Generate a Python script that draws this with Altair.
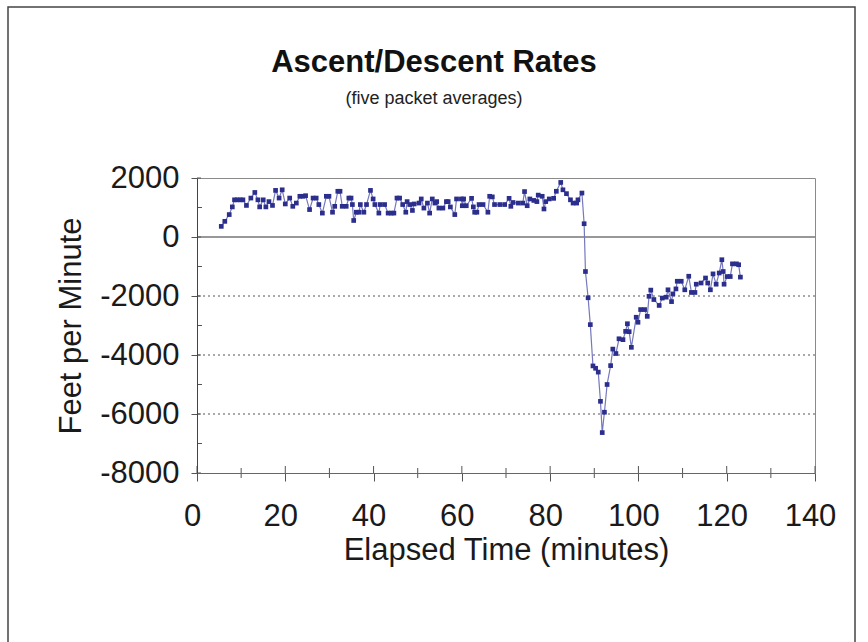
import altair as alt
import pandas as pd

# ---- data ----
minutes = [5.5, 6.3, 7.3, 8.0, 8.5, 9.1, 9.8, 10.4, 11.2, 12.2, 13.1, 13.8, 14.2, 15.0, 15.6,
           16.3, 17.1, 17.8, 18.6, 19.3, 20.0, 21.0, 21.7, 22.5, 23.3, 24.0, 24.6, 25.5, 26.3,
           27.0, 27.6, 28.4, 29.3, 29.9, 30.7, 31.2, 31.9, 32.4, 32.9, 33.8, 34.4, 34.9, 35.2,
           35.5, 36.1, 36.7, 37.0, 37.8, 38.4, 39.3, 39.9, 40.3, 41.2, 41.5, 42.5, 43.3, 44.0,
           44.6, 45.3, 45.9, 46.6, 47.3, 47.6, 48.2, 48.8, 49.2, 50.3, 50.8, 51.4, 52.2, 52.7,
           53.3, 53.9, 54.3, 54.8, 55.7, 56.5, 56.9, 57.4, 58.4, 58.8, 59.9, 60.1, 60.4, 61.0,
           62.2, 62.6, 62.9, 63.4, 63.9, 64.8, 65.9, 66.3, 66.9, 67.4, 68.6, 69.7, 70.7, 71.1,
           71.6, 72.8, 73.8, 74.2, 74.8, 75.4, 76.3, 77.0, 77.3, 78.2, 78.6, 79.0, 79.8, 80.8,
           81.4, 82.4, 82.9, 83.7, 84.6, 85.2, 86.0, 86.3, 87.2, 87.7, 88.0, 88.6, 89.1, 89.7,
           90.3, 90.9, 91.4, 91.8, 92.3, 92.9, 93.7, 94.2, 94.9, 95.6, 96.5, 97.1, 97.5, 97.9,
           98.4, 99.5, 99.9, 100.5, 101.4, 102.0, 102.4, 102.8, 103.5, 104.7, 105.4, 106.3,
           106.7, 107.5, 107.8, 108.5, 108.8, 109.7, 110.5, 111.4, 112.0, 112.8, 113.1, 114.2,
           115.2, 115.7, 116.3, 116.9, 117.6, 118.3, 118.9, 119.2, 119.4, 120.1, 120.8, 121.3,
           122.2, 122.7, 123.1]
rate = [360, 530, 760, 1020, 1260, 1260, 1260, 1260, 1070, 1320, 1510, 1260, 1020, 1260, 1020,
        1200, 1070, 1580, 1320, 1600, 1120, 1320, 1040, 1150, 1380, 1380, 1400, 930, 1320,
        1320, 1100, 810, 1380, 1380, 840, 1040, 1550, 1550, 1040, 1040, 1320, 1320, 1100,
        560, 840, 840, 1100, 840, 1100, 1580, 1290, 1100, 810, 1100, 1100, 810, 810,
        810, 1320, 1320, 1100, 840, 1200, 1100, 900, 1120, 1150, 1290, 980, 1150, 810,
        1290, 1150, 1200, 980, 980, 1200, 1200, 1020, 760, 1290, 1290, 1060, 1290, 1060,
        1310, 1020, 840, 840, 1100, 1100, 840, 1380, 1360, 1100, 1100, 1100, 1310, 1040,
        1170, 1150, 1150, 1540, 1060, 1290, 1240, 1200, 1420, 1380, 950, 1200, 1290, 1310,
        1550, 1850, 1600, 1470, 1260, 1150, 1150, 1260, 1490, 450, -1170, -2060, -2970, -4370,
        -4450, -4580, -5570, -6630, -5940, -5000, -4360, -3800, -3950, -3450, -3480, -3200, -2940, -3210,
        -3740, -2720, -2890, -2460, -2460, -2690, -2010, -1800, -2120, -2320, -2070, -2040,
        -1790, -2190, -1930, -1760, -1500, -1500, -1790, -1330, -1880, -1880, -1600, -1560,
        -1390, -1560, -1790, -1250, -1600, -1220, -770, -1170, -1600, -1340, -1340, -910,
        -910, -940, -1360]

x_major = [0, 20, 40, 60, 80, 100, 120, 140]
x_minor = [10, 30, 50, 70, 90, 110, 130]
y_major = [-8000, -6000, -4000, -2000, 0, 2000]
y_minor = [1000, -1000, -3000, -5000, -7000]
y_grid = [-2000, -4000, -6000]
y_zero = [0]
title_text = ["Ascent/Descent Rates"]
subtitle_text = ["(five packet averages)"]

W, H = 618, 295
FONT = "Liberation Sans"

df = pd.DataFrame({"minutes": minutes, "rate": rate})
x_scale = alt.Scale(domain=[0, 140], nice=False, zero=False)
y_scale = alt.Scale(domain=[-8000, 2000], nice=False)

x_axis = alt.Axis(values=x_major, labelFontSize=31, labelFont=FONT, labelColor="#1a1a1a",
                  labelPadding=20, labelOffset=-5, tickSize=8, tickColor="#555",
                  domainColor="#666", grid=False, title="Elapsed Time (minutes)",
                  titleFont=FONT, titleFontSize=31, titleFontWeight="normal",
                  titleColor="#1a1a1a", titlePadding=4, labelFlush=False, zindex=1)
y_axis = alt.Axis(values=y_major, labelFontSize=31, labelFont=FONT, labelColor="#1a1a1a",
                  labelPadding=12, tickSize=6, tickColor="#555", domainColor="#444",
                  grid=False, title="Feet per Minute", titleFont=FONT, titleFontSize=31,
                  titleFontWeight="normal", titleColor="#1a1a1a", titlePadding=12,
                  labelExpr="datum.value + ''", labelFlush=False, zindex=1)

line = alt.Chart(df).mark_line(color="#7578bd", strokeWidth=1.2).encode(
    x=alt.X("minutes:Q", scale=x_scale, axis=x_axis),
    y=alt.Y("rate:Q", scale=y_scale, axis=y_axis),
)
pts = alt.Chart(df).mark_point(shape="square", filled=True, size=22, color="#2b2e8c",
                               opacity=1).encode(
    x=alt.X("minutes:Q", scale=x_scale),
    y=alt.Y("rate:Q", scale=y_scale),
)

grid = alt.Chart(pd.DataFrame({"rate": y_grid})).mark_rule(
    color="#555", strokeDash=[2, 3], strokeWidth=1).encode(
    y=alt.Y("rate:Q", scale=y_scale))
zero = alt.Chart(pd.DataFrame({"rate": y_zero})).mark_rule(
    color="#333", strokeWidth=1.2).encode(
    y=alt.Y("rate:Q", scale=y_scale))

xmin_t = alt.Chart(pd.DataFrame({"minutes": x_minor})).mark_rule(color="#555").encode(
    x=alt.X("minutes:Q", scale=x_scale), y=alt.value(H - 5), y2=alt.value(H + 5))
xmaj_t = alt.Chart(pd.DataFrame({"minutes": x_major})).mark_rule(color="#555").encode(
    x=alt.X("minutes:Q", scale=x_scale), y=alt.value(H - 7), y2=alt.value(H))
ymin_t = alt.Chart(pd.DataFrame({"rate": y_minor})).mark_rule(color="#555").encode(
    y=alt.Y("rate:Q", scale=y_scale), x=alt.value(0), x2=alt.value(5))
ymaj_t = alt.Chart(pd.DataFrame({"rate": y_major})).mark_rule(color="#555").encode(
    y=alt.Y("rate:Q", scale=y_scale), x=alt.value(0), x2=alt.value(4))

frame = alt.Chart(pd.DataFrame({"k": [0]})).mark_rect(
    fill="transparent", stroke="#444", strokeWidth=1.5).encode(
    x=alt.value(8 - 197), x2=alt.value(855 - 197), y=alt.value(7 - 178), y2=alt.value(560))

title = alt.Chart(pd.DataFrame({"t": title_text})).mark_text(
    font=FONT, fontSize=31, fontWeight="bold", color="#111", align="center",
    baseline="alphabetic").encode(text="t:N", x=alt.value(434 - 197), y=alt.value(72 - 178))
subtitle = alt.Chart(pd.DataFrame({"t": subtitle_text})).mark_text(
    font=FONT, fontSize=18, color="#222", align="center",
    baseline="alphabetic").encode(text="t:N", x=alt.value(434 - 197), y=alt.value(104 - 178))

chart = alt.layer(frame, grid, zero, line, pts, xmin_t, xmaj_t, ymin_t, ymaj_t,
                  title, subtitle).properties(
    width=W, height=H,
    autosize=alt.AutoSizeParams(type="none"),
    padding={"left": 197, "top": 178, "right": 53, "bottom": 169},
    background="white",
).configure_view(stroke="#8a8a8a", strokeWidth=1)

chart.save("out.html", embed_options={"renderer": "svg", "actions": False})
